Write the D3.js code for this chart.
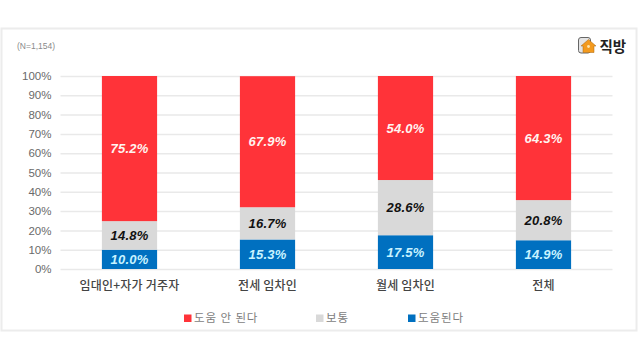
<!DOCTYPE html>
<html>
<head>
<meta charset="utf-8">
<script src="https://cdnjs.cloudflare.com/ajax/libs/d3/7.8.5/d3.min.js"></script>
<style>
  html, body { margin: 0; padding: 0; background: #fff; }
  svg { display: block; }
  text { font-family: "Noto Sans CJK KR", "Noto Sans", sans-serif; }
  .num { font-family: "Liberation Sans", Arial, sans-serif; }
</style>
</head>
<body>
<script>
// chart data
var categories = ["임대인+자가 거주자", "전세 임차인", "월세 임차인", "전체"];
var helpful = [10.0, 15.3, 17.5, 14.9];
var neutral = [14.8, 16.7, 28.6, 20.8];
var notHelpful = [75.2, 67.9, 54.0, 64.3];
var seriesNames = ["도움된다", "보통", "도움 안 된다"];
var yTicks = [0, 10, 20, 30, 40, 50, 60, 70, 80, 90, 100];
var note = "(N=1,154)";
var brand = "직방";

var colors = ["#0070c0", "#d9d9d9", "#ff3339"];
var labelColors = ["#c9f3ff", "#111111", "#fff4f0"];

var width = 640, height = 360;
var margin = {top: 76, left: 60.5, right: 27.5, bottom: 91};

var rows = categories.map(function(c, i) {
  return {category: c, s0: helpful[i], s1: neutral[i], s2: notHelpful[i]};
});

// set the ranges
var x = d3.scaleBand().domain(categories)
    .range([margin.left, width - margin.right]).paddingInner(0.6).paddingOuter(0.3);
var y = d3.scaleLinear().domain([0, 100]).range([height - margin.bottom, margin.top]);

var svg = d3.select("body").append("svg")
    .attr("width", width)
    .attr("height", height);

// outer frame
svg.append("rect")
    .attr("x", 1.5).attr("y", 28.5)
    .attr("width", 635).attr("height", 302)
    .attr("fill", "#fff")
    .attr("stroke", "#ececec")
    .attr("stroke-width", 2);

svg.append("text")
    .attr("class", "num")
    .attr("x", 17).attr("y", 49)
    .attr("font-size", 8.5).attr("fill", "#8a8a8a")
    .text(note);

// y axis with the grid lines
var yAxis = svg.append("g")
    .attr("transform", "translate(" + margin.left + ",0)")
    .call(d3.axisLeft(y).tickValues(yTicks)
      .tickSize(-(width - margin.left - margin.right))
      .tickPadding(9)
      .tickFormat(function(d) { return d + "%"; }));
yAxis.select(".domain").remove();
yAxis.selectAll("line").attr("stroke", "#e9e9e9").attr("stroke-width", 1.5);
yAxis.selectAll("text")
    .attr("class", "num")
    .attr("font-size", 11.5)
    .attr("fill", "#6a6a6a");

// stacked bars
var stack = d3.stack().keys(["s0", "s1", "s2"]);
var layers = svg.selectAll("g.layer")
    .data(stack(rows))
  .enter().append("g")
    .attr("class", "layer")
    .attr("fill", function(d, i) { return colors[i]; });

layers.selectAll("rect")
    .data(function(d) { return d; })
  .enter().append("rect")
    .attr("x", function(d) { return x(d.data.category); })
    .attr("width", x.bandwidth())
    .attr("y", function(d) { return y(Math.min(d[1], 100)); })
    .attr("height", function(d) { return y(d[0]) - y(Math.min(d[1], 100)); });

// value labels
layers.each(function(layer, i) {
  d3.select(this).selectAll("text")
      .data(layer)
    .enter().append("text")
      .attr("class", "num")
      .attr("x", function(d) { return x(d.data.category) + x.bandwidth() / 2; })
      .attr("y", function(d) { return (y(d[0]) + y(Math.min(d[1], 100))) / 2; })
      .attr("dy", "0.36em")
      .attr("text-anchor", "middle")
      .attr("font-size", 13)
      .attr("font-weight", "bold")
      .attr("font-style", "italic")
      .attr("letter-spacing", 0.2)
      .attr("fill", labelColors[i])
      .text(function(d) { return d.data["s" + i].toFixed(1) + "%"; });
});

// category labels
svg.selectAll("text.cat")
    .data(categories)
  .enter().append("text")
    .attr("class", "cat")
    .attr("x", function(d) { return x(d) + x.bandwidth() / 2; })
    .attr("y", 290)
    .attr("text-anchor", "middle")
    .attr("font-size", 12)
    .attr("font-weight", 500)
    .attr("letter-spacing", 0.2)
    .attr("fill", "#444")
    .text(function(d) { return d; });

// legend, drawn in the source order
var legendX = [184, 316, 408];
var legendOrder = [2, 1, 0];
legendOrder.forEach(function(s, i) {
  svg.append("rect")
      .attr("x", legendX[i]).attr("y", 314.5)
      .attr("width", 7.5).attr("height", 7.5)
      .attr("fill", colors[s]);
  svg.append("text")
      .attr("x", legendX[i] + 10).attr("y", 321.5)
      .attr("font-size", 11.5)
      .attr("letter-spacing", 0.9)
      .attr("fill", "#7d7d7d")
      .text(seriesNames[s]);
});

// brand logo
var logo = svg.append("g").attr("transform", "translate(578,37)");
logo.append("rect")
    .attr("x", 0.5).attr("y", 0.5).attr("width", 12).attr("height", 15.5).attr("rx", 2.5)
    .attr("fill", "#e4e4e4").attr("stroke", "#666").attr("stroke-width", 1);
logo.append("path")
    .attr("d", "M3 9L10.5 2.5L18 9L16 9L16 15.5L5 15.5L5 9Z")
    .attr("fill", "#f39a1e").attr("stroke", "#a8650f").attr("stroke-width", 0.5);
logo.append("circle").attr("cx", 10.5).attr("cy", 9.5).attr("r", 1.4).attr("fill", "#fde6b0");
svg.append("text")
    .attr("x", 599.5).attr("y", 51.5)
    .attr("font-size", 14.5).attr("font-weight", "bold")
    .attr("fill", "#222")
    .text(brand);
</script>
</body>
</html>
